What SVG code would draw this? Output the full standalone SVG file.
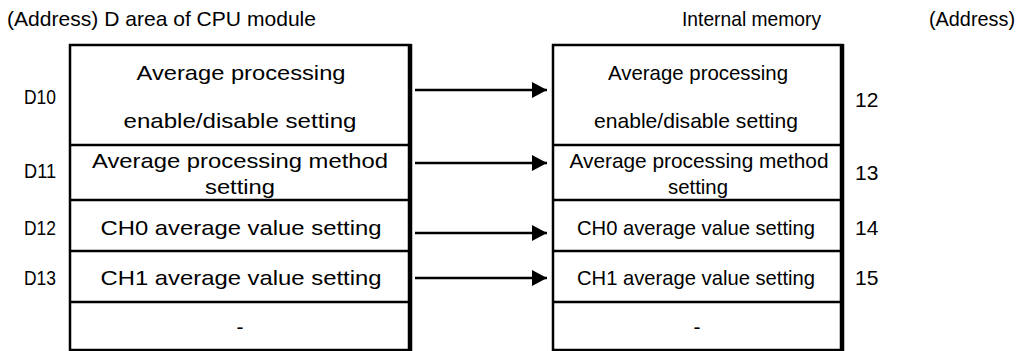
<svg xmlns="http://www.w3.org/2000/svg" width="1019" height="351" viewBox="0 0 1019 351">
<style>
text{font-family:"Liberation Sans",Arial,sans-serif;font-size:21px;fill:#000}
.c{text-anchor:middle}
.b{fill:#fff;stroke:#000;stroke-width:2.5}
.ln{stroke:#000;stroke-width:2.5;fill:none}
.rt{stroke:#000;stroke-width:4.5}
.ar{stroke:#000;stroke-width:2.5}
</style>
<defs>
<marker id="ah" markerWidth="15" markerHeight="16" refX="15" refY="8" orient="auto" markerUnits="userSpaceOnUse">
<path d="M0,0 L15,8 L0,16 Z" fill="#000"/>
</marker>
</defs>
<g id="headers">
<text x="7" y="26" textLength="309" lengthAdjust="spacingAndGlyphs">(Address) D area of CPU module</text>
<text x="682" y="26" textLength="139" lengthAdjust="spacingAndGlyphs">Internal memory</text>
<text x="929" y="26" textLength="86" lengthAdjust="spacingAndGlyphs">(Address)</text>
</g>
<g id="left-table">
<rect class="b" x="70" y="45" width="340" height="305"/>
<line class="ln" x1="70" y1="145" x2="410" y2="145"/>
<line class="ln" x1="70" y1="200" x2="410" y2="200"/>
<line class="ln" x1="70" y1="251" x2="410" y2="251"/>
<line class="ln" x1="70" y1="302" x2="410" y2="302"/>
<line class="rt" x1="410" y1="44" x2="410" y2="351"/>
</g>
<g id="L-D10"><text x="24" y="104" textLength="32" lengthAdjust="spacingAndGlyphs">D10</text><text class="c" x="241" y="80" textLength="209" lengthAdjust="spacingAndGlyphs">Average processing</text><text class="c" x="240" y="128" textLength="233" lengthAdjust="spacingAndGlyphs">enable/disable setting</text></g>
<g id="L-D11"><text x="24" y="178" textLength="32" lengthAdjust="spacingAndGlyphs">D11</text><text class="c" x="240" y="168" textLength="296" lengthAdjust="spacingAndGlyphs">Average processing method</text><text class="c" x="240" y="194" textLength="70" lengthAdjust="spacingAndGlyphs">setting</text></g>
<g id="L-D12"><text x="24" y="235" textLength="32" lengthAdjust="spacingAndGlyphs">D12</text><text class="c" x="241" y="235" textLength="281" lengthAdjust="spacingAndGlyphs">CH0 average value setting</text></g>
<g id="L-D13"><text x="24" y="285" textLength="32" lengthAdjust="spacingAndGlyphs">D13</text><text class="c" x="241" y="285" textLength="281" lengthAdjust="spacingAndGlyphs">CH1 average value setting</text></g>
<g id="L-D14"><text class="c" x="240" y="334">-</text></g>
<g id="right-table">
<rect class="b" x="553" y="45" width="289" height="305"/>
<line class="ln" x1="553" y1="145" x2="842" y2="145"/>
<line class="ln" x1="553" y1="200" x2="842" y2="200"/>
<line class="ln" x1="553" y1="251" x2="842" y2="251"/>
<line class="ln" x1="553" y1="302" x2="842" y2="302"/>
<line class="rt" x1="842" y1="44" x2="842" y2="351"/>
</g>
<g id="R-12"><text class="c" x="698" y="80" textLength="180" lengthAdjust="spacingAndGlyphs">Average processing</text><text class="c" x="696" y="128" textLength="204" lengthAdjust="spacingAndGlyphs">enable/disable setting</text><text x="855" y="107">12</text></g>
<g id="R-13"><text class="c" x="699" y="168" textLength="259" lengthAdjust="spacingAndGlyphs">Average processing method</text><text class="c" x="698" y="194" textLength="60" lengthAdjust="spacingAndGlyphs">setting</text><text x="855" y="180">13</text></g>
<g id="R-14"><text class="c" x="696" y="235" textLength="238" lengthAdjust="spacingAndGlyphs">CH0 average value setting</text><text x="855" y="235">14</text></g>
<g id="R-15"><text class="c" x="696" y="285" textLength="238" lengthAdjust="spacingAndGlyphs">CH1 average value setting</text><text x="855" y="285">15</text></g>
<g id="R-16"><text class="c" x="697" y="334">-</text></g>
<g id="connectors">
<line class="ar" x1="415" y1="90" x2="547" y2="90" marker-end="url(#ah)"/>
<line class="ar" x1="415" y1="163" x2="547" y2="163" marker-end="url(#ah)"/>
<line class="ar" x1="415" y1="233" x2="547" y2="233" marker-end="url(#ah)"/>
<line class="ar" x1="415" y1="278" x2="547" y2="278" marker-end="url(#ah)"/>
</g>
</svg>
